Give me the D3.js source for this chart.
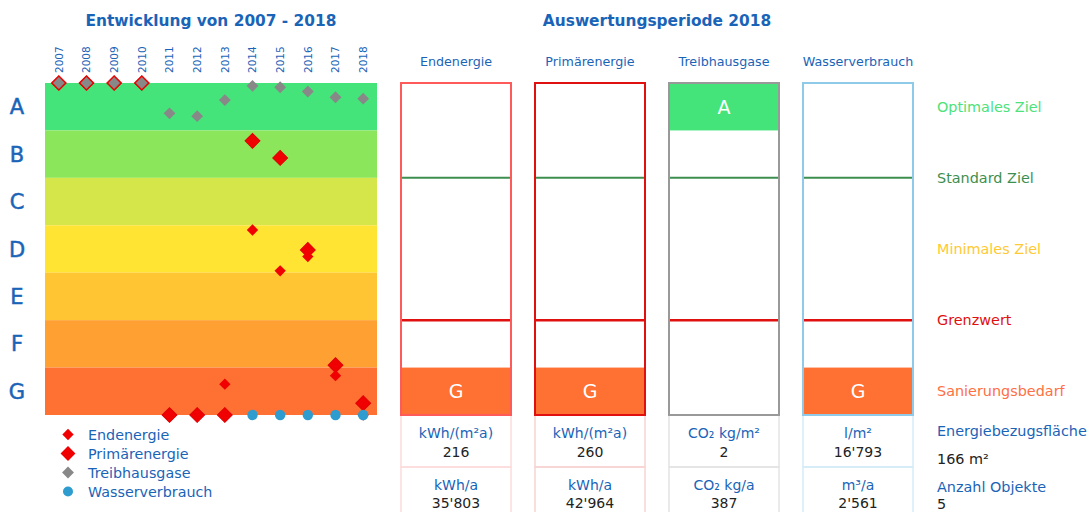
<!DOCTYPE html>
<html><head><meta charset="utf-8">
<script src="https://cdn.jsdelivr.net/npm/d3@7"></script>
<style>
html,body{margin:0;padding:0;background:#fff;}
svg{display:block;font-family:"DejaVu Sans",sans-serif;}
</style></head>
<body><svg id="c" width="1091" height="512"></svg>
<script>
// ---------- data ----------
const years = [2007,2008,2009,2010,2011,2012,2013,2014,2015,2016,2017,2018];
const classes = ["A","B","C","D","E","F","G"];
// position on the class scale (0 = top of A, 7 = bottom of G)
const endenergie     = [null,null,null,null,null,null,6.35,3.10,3.96,3.66,6.17,7.0];
const primaerenergie = [0,0,0,0,7,7,7,1.22,1.58,3.52,5.95,6.75];
const treibhausgase  = [0,0,0,0,0.64,0.70,0.36,0.06,0.09,0.18,0.30,0.33];
const wasserverbrauch= [null,null,null,null,null,null,null,7,7,7,7,7];
const seriesNames = ["Endenergie","Primärenergie","Treibhausgase","Wasserverbrauch"];
const panels = ["Endenergie","Primärenergie","Treibhausgase","Wasserverbrauch"];
const panelClass = ["G","G","A","G"];
const unit1 = ["kWh/(m²a)","kWh/(m²a)","CO₂ kg/m²","l/m²"];
const value1 = ["216","260","2","16'793"];
const unit2 = ["kWh/a","kWh/a","CO₂ kg/a","m³/a"];
const value2 = ["35'803","42'964","387","2'561"];
const targetNames = ["Optimales Ziel","Standard Ziel","Minimales Ziel","Grenzwert","Sanierungsbedarf"];
const targetPos = [0.5,2,3.5,5,6.5];
const infoLabels = ["Energiebezugsfläche","Anzahl Objekte"];
const infoValues = ["166 m²","5"];

// ---------- styles ----------
const blue = "#1a64b8";
const bandColors = ["#45e47a","#8be65c","#d4e64a","#ffe433","#ffc533","#ffa033","#ff7033"];
const panelStroke = ["#ff5a5a","#e01010","#999999","#8fcbe8"];
const cellStroke = ["#fcdcdc","#f8d4d4","#e4e4e4","#d4ecf7"];
const targetColors = ["#4de27a","#3d8f4f","#ffc933","#e01010","#ff7043"];

const svg = d3.select("#c");
const yTop = 83, yBottom = 415;

const x = d3.scaleBand().domain(years).range([45,377]);
const yBand = d3.scaleBand().domain(classes).range([yTop,yBottom]);
const y = d3.scaleLinear().domain([0,7]).range([yTop,yBottom]);

// titles
svg.append("text").attr("x",211).attr("y",26).attr("text-anchor","middle")
  .attr("font-size",15.4).attr("font-weight","bold").attr("fill",blue).text("Entwicklung von 2007 - 2018");
svg.append("text").attr("x",657).attr("y",26).attr("text-anchor","middle")
  .attr("font-size",15.4).attr("font-weight","bold").attr("fill",blue).text("Auswertungsperiode 2018");

// bands
svg.append("g").selectAll("rect").data(classes).join("rect")
  .attr("x",45).attr("width",332).attr("y",d=>yBand(d)).attr("height",yBand.bandwidth())
  .attr("fill",(d,i)=>bandColors[i]);

// class letters
svg.append("g").selectAll("text").data(classes).join("text")
  .attr("x",17).attr("y",d=>yBand(d)+yBand.bandwidth()/2).attr("dy","0.36em")
  .attr("text-anchor","middle").attr("font-size",21).attr("fill",blue)
  .attr("stroke",blue).attr("stroke-width",0.5).text(d=>d);

// year labels (axis on top)
const xAxis = d3.axisTop(x).tickSize(0).tickPadding(0);
const gx = svg.append("g").attr("transform","translate(0,73)").call(xAxis);
gx.select(".domain").remove();
gx.selectAll("text").attr("transform","rotate(-90)").attr("text-anchor","start")
  .attr("x",0).attr("y",0).attr("dy","0.35em").attr("font-size",10.5).attr("fill",blue)
  .style("font-family","'DejaVu Sans',sans-serif");

// markers
const sq = s => d3.symbol(d3.symbolSquare, s)();
function drawSeries(vals, sym, fill, stroke){
  const data = years.map((yr,i)=>({yr, v: vals[i]})).filter(d=>d.v!==null);
  svg.append("g").selectAll("path").data(data).join("path")
    .attr("d", sym)
    .attr("transform", d=>`translate(${x(d.yr)+x.bandwidth()/2},${y(d.v)}) rotate(45)`)
    .attr("fill",fill).attr("stroke",stroke||"none");
}
drawSeries(primaerenergie, sq(110), "#f00000", "#e00000");
drawSeries(endenergie, sq(64), "#f00000");
drawSeries(treibhausgase, sq(70), "#888888");
{
  const data = years.map((yr,i)=>({yr, v: wasserverbrauch[i]})).filter(d=>d.v!==null);
  svg.append("g").selectAll("circle").data(data).join("circle")
    .attr("cx",d=>x(d.yr)+x.bandwidth()/2).attr("cy",d=>y(d.v)).attr("r",5.2).attr("fill","#2e9ccf");
}

// legend
const legendSyms = [
  g=>g.append("path").attr("d",sq(64)).attr("transform","rotate(45)").attr("fill","#f00000"),
  g=>g.append("path").attr("d",sq(110)).attr("transform","rotate(45)").attr("fill","#f00000"),
  g=>g.append("path").attr("d",sq(70)).attr("transform","rotate(45)").attr("fill","#888888"),
  g=>g.append("circle").attr("r",5).attr("fill","#2e9ccf")
];
const lg = svg.append("g").selectAll("g").data(seriesNames).join("g")
  .attr("transform",(d,i)=>`translate(68,${434.5+i*19})`);
lg.each(function(d,i){ legendSyms[i](d3.select(this)); });
lg.append("text").attr("x",20).attr("dy","0.36em").attr("font-size",14.3).attr("fill",blue).text(d=>d);

// panels
const px = d3.scaleBand().domain(panels).range([389,925]).paddingInner(24/134).paddingOuter(12/134);
const pw = px.bandwidth();
const pg = svg.append("g").selectAll("g").data(panels).join("g")
  .attr("transform",d=>`translate(${px(d)},0)`);
pg.append("text").attr("x",pw/2).attr("y",66).attr("text-anchor","middle")
  .attr("font-size",12.7).attr("fill",blue).text(d=>d);
// table cells
pg.append("rect").attr("x",0).attr("y",yBottom).attr("width",pw).attr("height",52)
  .attr("fill","none").attr("stroke",(d,i)=>cellStroke[i]).attr("stroke-width",1.5);
pg.append("rect").attr("x",0).attr("y",yBottom+52).attr("width",pw).attr("height",60)
  .attr("fill","none").attr("stroke",(d,i)=>cellStroke[i]).attr("stroke-width",1.5);
// class fill
pg.append("rect").attr("x",0).attr("width",pw)
  .attr("y",(d,i)=>yBand(panelClass[i])).attr("height",yBand.bandwidth())
  .attr("fill",(d,i)=>bandColors[classes.indexOf(panelClass[i])]);
pg.append("text").attr("x",pw/2).attr("y",(d,i)=>yBand(panelClass[i])+yBand.bandwidth()/2)
  .attr("dy","0.36em").attr("text-anchor","middle").attr("font-size",19).attr("fill","#fff")
  .text((d,i)=>panelClass[i]);
// target lines
pg.append("line").attr("x1",0).attr("x2",pw).attr("y1",y(2)).attr("y2",y(2))
  .attr("stroke","#3d8f4f").attr("stroke-width",2);
pg.append("line").attr("x1",0).attr("x2",pw).attr("y1",y(5)).attr("y2",y(5))
  .attr("stroke","#e01010").attr("stroke-width",2.5);
// border
pg.append("rect").attr("x",0).attr("y",yTop).attr("width",pw).attr("height",yBottom-yTop)
  .attr("fill","none").attr("stroke",(d,i)=>panelStroke[i]).attr("stroke-width",2);
// table text
pg.append("text").attr("x",pw/2).attr("y",438).attr("text-anchor","middle").attr("font-size",14)
  .attr("fill",blue).text((d,i)=>unit1[i]);
pg.append("text").attr("x",pw/2).attr("y",457).attr("text-anchor","middle").attr("font-size",14)
  .attr("fill","#222").text((d,i)=>value1[i]);
pg.append("text").attr("x",pw/2).attr("y",490).attr("text-anchor","middle").attr("font-size",14)
  .attr("fill",blue).text((d,i)=>unit2[i]);
pg.append("text").attr("x",pw/2).attr("y",508).attr("text-anchor","middle").attr("font-size",14)
  .attr("fill","#222").text((d,i)=>value2[i]);

// right side labels
svg.append("g").selectAll("text").data(targetNames).join("text")
  .attr("x",937).attr("y",(d,i)=>y(targetPos[i])).attr("dy","0.36em")
  .attr("font-size",14.4).attr("fill",(d,i)=>targetColors[i]).text(d=>d);
svg.append("text").attr("x",937).attr("y",436).attr("font-size",14.4).attr("fill",blue).text(infoLabels[0]);
svg.append("text").attr("x",937).attr("y",464).attr("font-size",14.4).attr("fill","#222").text(infoValues[0]);
svg.append("text").attr("x",937).attr("y",492).attr("font-size",14.4).attr("fill",blue).text(infoLabels[1]);
svg.append("text").attr("x",937).attr("y",509).attr("font-size",14.4).attr("fill","#222").text(infoValues[1]);
</script></body></html>
